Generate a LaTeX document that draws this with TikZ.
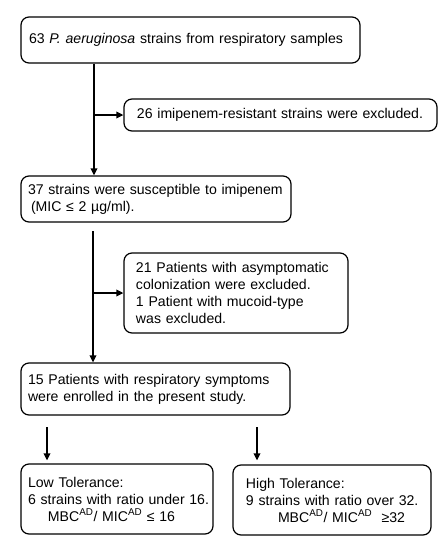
\documentclass[tikz,border=0pt]{standalone}
\usepackage{fontspec}
\setmainfont{Liberation Sans}
\usetikzlibrary{arrows.meta}
\newcommand\ind[1]{\hspace*{#1}}
\begin{document}
\begin{tikzpicture}[x=1pt,y=-1pt,
  box/.style={draw, line width=1.2pt, rounded corners=8pt, align=left,
    inner xsep=0pt, inner ysep=0pt, font=\fontsize{14.1}{17}\selectfont},
  arr/.style={line width=1.8pt, -{Triangle[length=7pt,width=6.5pt]}}]
\useasboundingbox (0,0) rectangle (448,550);
\node[box, minimum width=339pt, minimum height=46pt, text width=339pt] (b1) at (190.5,40)
  {\ind{8pt}63 \textit{P. aeruginosa} strains from respiratory samples};
\node[box, minimum width=313pt, minimum height=32pt, text width=313pt] (b26) at (280.5,115)
  {\ind{13pt}26 imipenem-resistant strains were excluded.};
\node[box, minimum width=270pt, minimum height=46pt, text width=270pt] (b37) at (156,199)
  {\ind{7pt}37 strains were susceptible to imipenem\\\ind{10pt}(MIC ≤ 2 µg/ml).};
\node[box, minimum width=224pt, minimum height=80pt, text width=224pt] (b21) at (236,293)
  {\ind{12pt}21 Patients with asymptomatic\\\ind{12pt}colonization were excluded.\\\ind{12pt}1 Patient with mucoid-type\\\ind{12pt}was excluded.};
\node[box, minimum width=269pt, minimum height=52pt, text width=269pt] (b15) at (155.5,389)
  {\ind{7pt}15 Patients with respiratory symptoms\\\ind{7pt}were enrolled in the present study.};
\node[box, minimum width=192pt, minimum height=70pt, text width=192pt] (blow) at (117,499)
  {\ind{7pt}Low Tolerance:\\\ind{7pt}6 strains with ratio under 16.\\\ind{27pt}MBC\textsuperscript{AD}/ MIC\textsuperscript{AD} ≤ 16};
\node[box, minimum width=198pt, minimum height=70pt, text width=198pt] (bhigh) at (332,500)
  {\ind{13pt}High Tolerance:\\\ind{13pt}9 strains with ratio over 32.\\\ind{45pt}MBC\textsuperscript{AD}/ MIC\textsuperscript{AD} \ ≥32};
\coordinate (xa) at (94,0);
\coordinate (br1) at (94,115);
\coordinate (s2) at (93,231);
\coordinate (br2) at (93,293);
\coordinate (s3) at (47,427);
\coordinate (s4) at (257,427);
\draw[arr] (xa |- b1.south) -- (xa |- b37.north);
\draw[arr] (br1) -- (b26.west);
\draw[arr] (s2) -- (s2 |- b15.north);
\draw[arr] (br2) -- (b21.west);
\draw[arr, shorten >=3pt] (s3) -- (s3 |- blow.north);
\draw[arr, shorten >=4pt] (s4) -- (s4 |- bhigh.north);
\end{tikzpicture}
\end{document}
